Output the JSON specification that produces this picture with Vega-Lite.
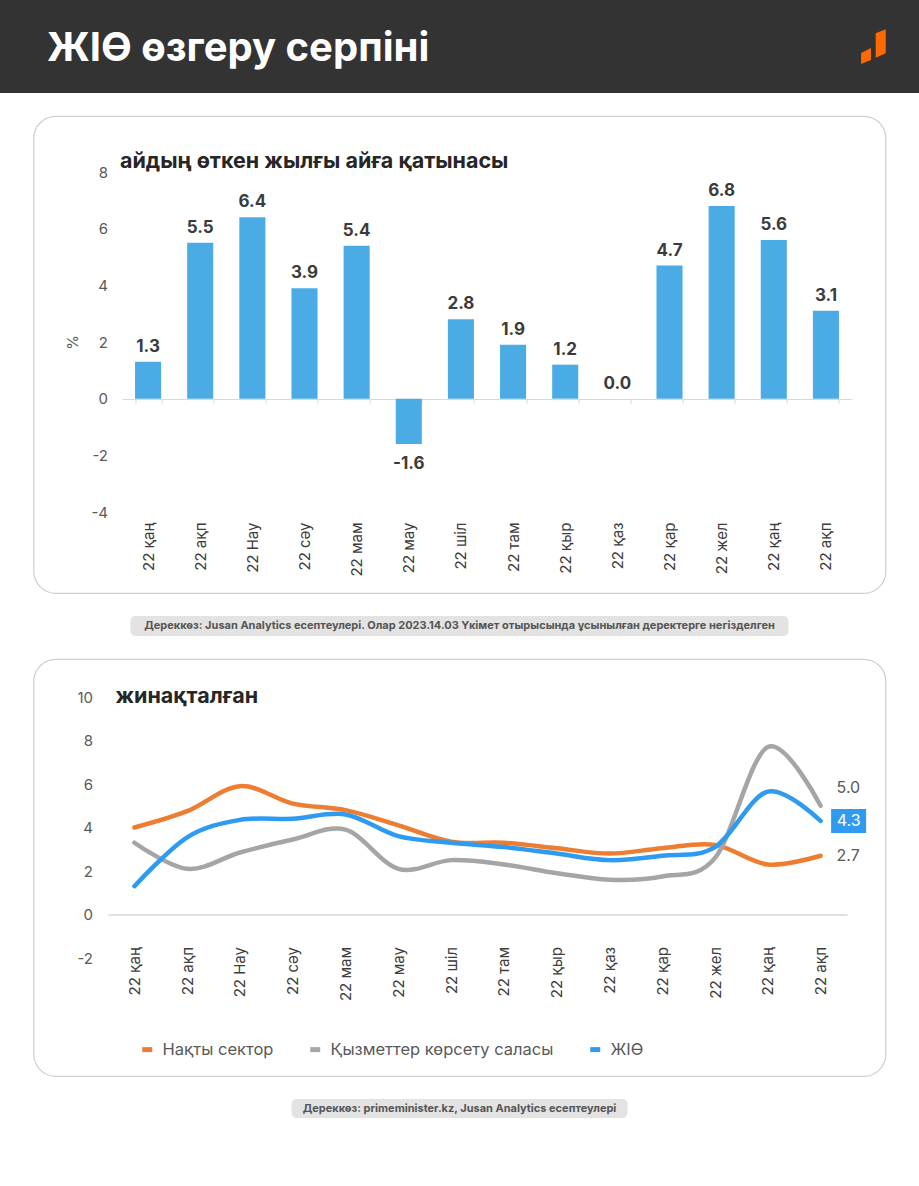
{
  "$schema": "https://vega.github.io/schema/vega-lite/v6.json",
  "background": "white",
  "padding": 0,
  "spacing": 23,
  "bounds": "flush",
  "center": true,
  "config": {
    "font": "Inter",
    "locale": {"number": {"decimal": ".", "thousands": ",", "grouping": [3], "currency": ["$", ""], "minus": "-"}},
    "axis": {"grid": false, "labelFont": "Inter", "titleFont": "Inter"},
    "title": {"font": "Inter"},
    "legend": {"labelFont": "Inter"}
  },
  "datasets": {
    "header": [{"name": "logo"}],
    "note1": [{"t": "Дереккөз: Jusan Analytics есептеулері. Олар 2023.14.03 Үкімет отырысында ұсынылған деректерге негізделген"}],
    "note2": [{"t": "Дереккөз: primeminister.kz, Jusan Analytics есептеулері"}],
    "bars": [
      {"m": "22 қаң", "v": 1.3},
      {"m": "22 ақп", "v": 5.5},
      {"m": "22 Нау", "v": 6.4},
      {"m": "22 сәу", "v": 3.9},
      {"m": "22 мам", "v": 5.4},
      {"m": "22 мау", "v": -1.6},
      {"m": "22 шіл", "v": 2.8},
      {"m": "22 там", "v": 1.9},
      {"m": "22 қыр", "v": 1.2},
      {"m": "22 қаз", "v": 0.0},
      {"m": "22 қар", "v": 4.7},
      {"m": "22 жел", "v": 6.8},
      {"m": "22 қаң\u200b", "v": 5.6},
      {"m": "22 ақп\u200b", "v": 3.1}
    ],
    "lines": [
      {"m": "22 қаң", "s": "Нақты сектор", "v": 4.0},
      {"m": "22 ақп", "s": "Нақты сектор", "v": 4.75},
      {"m": "22 Нау", "s": "Нақты сектор", "v": 5.9},
      {"m": "22 сәу", "s": "Нақты сектор", "v": 5.1},
      {"m": "22 мам", "s": "Нақты сектор", "v": 4.8},
      {"m": "22 мау", "s": "Нақты сектор", "v": 4.1},
      {"m": "22 шіл", "s": "Нақты сектор", "v": 3.35},
      {"m": "22 там", "s": "Нақты сектор", "v": 3.3},
      {"m": "22 қыр", "s": "Нақты сектор", "v": 3.05},
      {"m": "22 қаз", "s": "Нақты сектор", "v": 2.8},
      {"m": "22 қар", "s": "Нақты сектор", "v": 3.05},
      {"m": "22 жел", "s": "Нақты сектор", "v": 3.2},
      {"m": "22 қаң\u200b", "s": "Нақты сектор", "v": 2.3},
      {"m": "22 ақп\u200b", "s": "Нақты сектор", "v": 2.7},
      {"m": "22 қаң", "s": "Қызметтер көрсету саласы", "v": 3.3},
      {"m": "22 ақп", "s": "Қызметтер көрсету саласы", "v": 2.1},
      {"m": "22 Нау", "s": "Қызметтер көрсету саласы", "v": 2.85},
      {"m": "22 сәу", "s": "Қызметтер көрсету саласы", "v": 3.45},
      {"m": "22 мам", "s": "Қызметтер көрсету саласы", "v": 3.9},
      {"m": "22 мау", "s": "Қызметтер көрсету саласы", "v": 2.1},
      {"m": "22 шіл", "s": "Қызметтер көрсету саласы", "v": 2.5},
      {"m": "22 там", "s": "Қызметтер көрсету саласы", "v": 2.3},
      {"m": "22 қыр", "s": "Қызметтер көрсету саласы", "v": 1.9},
      {"m": "22 қаз", "s": "Қызметтер көрсету саласы", "v": 1.6},
      {"m": "22 қар", "s": "Қызметтер көрсету саласы", "v": 1.75},
      {"m": "22 жел", "s": "Қызметтер көрсету саласы", "v": 2.6},
      {"m": "22 қаң\u200b", "s": "Қызметтер көрсету саласы", "v": 7.7},
      {"m": "22 ақп\u200b", "s": "Қызметтер көрсету саласы", "v": 5.0},
      {"m": "22 қаң", "s": "ЖІӨ", "v": 1.3},
      {"m": "22 ақп", "s": "ЖІӨ", "v": 3.55},
      {"m": "22 Нау", "s": "ЖІӨ", "v": 4.35},
      {"m": "22 сәу", "s": "ЖІӨ", "v": 4.4},
      {"m": "22 мам", "s": "ЖІӨ", "v": 4.6},
      {"m": "22 мау", "s": "ЖІӨ", "v": 3.6},
      {"m": "22 шіл", "s": "ЖІӨ", "v": 3.3},
      {"m": "22 там", "s": "ЖІӨ", "v": 3.1},
      {"m": "22 қыр", "s": "ЖІӨ", "v": 2.8},
      {"m": "22 қаз", "s": "ЖІӨ", "v": 2.5},
      {"m": "22 қар", "s": "ЖІӨ", "v": 2.7},
      {"m": "22 жел", "s": "ЖІӨ", "v": 3.1},
      {"m": "22 қаң\u200b", "s": "ЖІӨ", "v": 5.65},
      {"m": "22 ақп\u200b", "s": "ЖІӨ", "v": 4.3}
    ]
  },
  "vconcat": [
    {
      "width": 919,
      "height": 93,
      "view": {"fill": "#333333", "stroke": null},
      "title": {"text": "ЖІӨ өзгеру серпіні", "anchor": "start", "frame": "group", "orient": "top", "offset": -101, "dx": 47, "baseline": "alphabetic", "fontSize": 40, "fontWeight": "bold", "color": "#ffffff"},
      "data": {"name": "header"},
      "mark": {"type": "point", "shape": "M-0.69,0.36L-0.14,0.08L-0.14,0.75L-0.69,0.97ZM0.12,-0.73L0.68,-0.96L0.68,0.38L0.12,0.62Z", "size": 1296, "filled": true, "color": "#FF6A00", "opacity": 1, "strokeWidth": 0},
      "encoding": {"x": {"value": 873.5}, "y": {"value": 46.5}}
    },
    {
      "width": 852,
      "height": 477,
      "view": {"fill": "white", "stroke": "#cfcfcf", "strokeWidth": 1.2, "cornerRadius": 22},
      "title": {"text": "айдың өткен жылғы айға қатынасы", "anchor": "start", "frame": "group", "orient": "top", "offset": -73, "dx": 86.5, "baseline": "alphabetic", "fontSize": 21.5, "fontWeight": "bold", "color": "#262626"},
      "data": {"name": "bars"},
      "encoding": {
        "x": {
          "field": "m", "type": "nominal", "sort": null,
          "scale": {"type": "band", "range": [88.5, 818.5], "paddingInner": 0.5, "paddingOuter": 0.25},
          "axis": {"title": null, "orient": "bottom", "offset": -194, "domainColor": "#d9d9d9", "domainWidth": 1.2, "ticks": true, "tickColor": "#d9d9d9", "tickSize": 5, "tickBand": "extent", "labelAngle": -90, "labelPadding": 118, "labelFontSize": 15, "labelColor": "#3d3d3d"}
        },
        "y": {
          "field": "v", "type": "quantitative",
          "scale": {"domain": [-4, 8], "range": [396, 56], "nice": false},
          "axis": {"title": "%", "values": [-4, -2, 0, 2, 4, 6, 8], "offset": -74, "domain": false, "ticks": false, "labelPadding": 0, "labelFontSize": 15, "labelColor": "#595959", "titleFontSize": 15, "titleFontWeight": "normal", "titleColor": "#595959", "titlePadding": 10}
        }
      },
      "layer": [
        {"mark": {"type": "bar", "color": "#4BACE5"}},
        {
          "transform": [{"filter": "datum.v >= 0"}],
          "mark": {"type": "text", "baseline": "alphabetic", "dy": -10, "fontSize": 17, "fontWeight": "bold", "color": "#3b3b3b"},
          "encoding": {"text": {"field": "v", "type": "quantitative", "format": ".1f"}}
        },
        {
          "transform": [{"filter": "datum.v < 0"}],
          "mark": {"type": "text", "baseline": "top", "dy": 12, "fontSize": 17, "fontWeight": "bold", "color": "#3b3b3b"},
          "encoding": {"text": {"field": "v", "type": "quantitative", "format": ".1f"}}
        }
      ]
    },
    {
      "width": 658,
      "height": 20,
      "view": {"fill": "#e3e3e3", "stroke": null, "cornerRadius": 5},
      "data": {"name": "note1"},
      "mark": {"type": "text", "fontSize": 11, "fontWeight": "bold", "color": "#555555", "align": "center", "baseline": "middle"},
      "encoding": {"text": {"field": "t", "type": "nominal"}}
    },
    {
      "width": 852,
      "height": 417,
      "view": {"fill": "white", "stroke": "#cfcfcf", "strokeWidth": 1.2, "cornerRadius": 22},
      "title": {"text": "жинақталған", "anchor": "start", "frame": "group", "orient": "top", "offset": -65, "dx": 82, "baseline": "alphabetic", "fontSize": 21.5, "fontWeight": "bold", "color": "#262626"},
      "data": {"name": "lines"},
      "encoding": {
        "x": {
          "field": "m", "type": "nominal",
          "sort": ["22 қаң", "22 ақп", "22 Нау", "22 сәу", "22 мам", "22 мау", "22 шіл", "22 там", "22 қыр", "22 қаз", "22 қар", "22 жел", "22 қаң\u200b", "22 ақп\u200b"],
          "scale": {"type": "point", "range": [74.5, 813.5], "padding": 0.5},
          "axis": {"title": null, "orient": "bottom", "offset": -161.5, "domainColor": "#d9d9d9", "domainWidth": 1.5, "ticks": false, "labelAngle": -90, "labelPadding": 32, "labelFontSize": 15, "labelColor": "#3d3d3d"}
        },
        "y": {
          "field": "v", "type": "quantitative",
          "scale": {"domain": [-2, 10], "range": [299, 38], "nice": false},
          "axis": {"title": null, "values": [-2, 0, 2, 4, 6, 8, 10], "offset": -59, "domain": false, "ticks": false, "labelPadding": 0, "labelFontSize": 15, "labelColor": "#595959"}
        }
      },
      "layer": [
        {
          "mark": {"type": "line", "interpolate": "cardinal", "strokeWidth": 4.5, "strokeCap": "round"},
          "encoding": {
            "color": {
              "field": "s", "type": "nominal",
              "scale": {"domain": ["Нақты сектор", "Қызметтер көрсету саласы", "ЖІӨ"], "range": ["#ED7D31", "#A5A5A5", "#2E9BF0"]},
              "legend": {"orient": "none", "legendX": 139, "legendY": 1041, "direction": "horizontal", "title": null, "symbolType": "stroke", "symbolStrokeWidth": 5, "symbolSize": 100, "labelFontSize": 16.5, "labelColor": "#595959", "labelLimit": 0, "columnPadding": 26, "labelOffset": 7, "padding": 0}
            }
          }
        },
        {
          "transform": [{"filter": "datum.m === '22 ақп\u200b' && datum.s === 'Қызметтер көрсету саласы'"}],
          "mark": {"type": "text", "align": "left", "baseline": "middle", "dx": 16, "dy": -18, "fontSize": 16, "color": "#595959"},
          "encoding": {"text": {"field": "v", "type": "quantitative", "format": ".1f"}}
        },
        {
          "transform": [{"filter": "datum.m === '22 ақп\u200b' && datum.s === 'Нақты сектор'"}],
          "mark": {"type": "text", "align": "left", "baseline": "middle", "dx": 16, "dy": 0, "fontSize": 16, "color": "#595959"},
          "encoding": {"text": {"field": "v", "type": "quantitative", "format": ".1f"}}
        },
        {
          "transform": [{"filter": "datum.m === '22 ақп\u200b' && datum.s === 'ЖІӨ'"}],
          "mark": {"type": "point", "shape": "M-1,-0.686H1V0.686H-1Z", "size": 1225, "filled": true, "color": "#2E9BF0", "opacity": 1, "strokeWidth": 0, "xOffset": 28}
        },
        {
          "transform": [{"filter": "datum.m === '22 ақп\u200b' && datum.s === 'ЖІӨ'"}],
          "mark": {"type": "text", "align": "center", "baseline": "middle", "dx": 28, "fontSize": 16, "color": "#ffffff"},
          "encoding": {"text": {"field": "v", "type": "quantitative", "format": ".1f"}}
        }
      ]
    },
    {
      "width": 336,
      "height": 19,
      "view": {"fill": "#e3e3e3", "stroke": null, "cornerRadius": 5},
      "data": {"name": "note2"},
      "mark": {"type": "text", "fontSize": 11, "fontWeight": "bold", "color": "#555555", "align": "center", "baseline": "middle"},
      "encoding": {"text": {"field": "t", "type": "nominal"}}
    }
  ]
}
